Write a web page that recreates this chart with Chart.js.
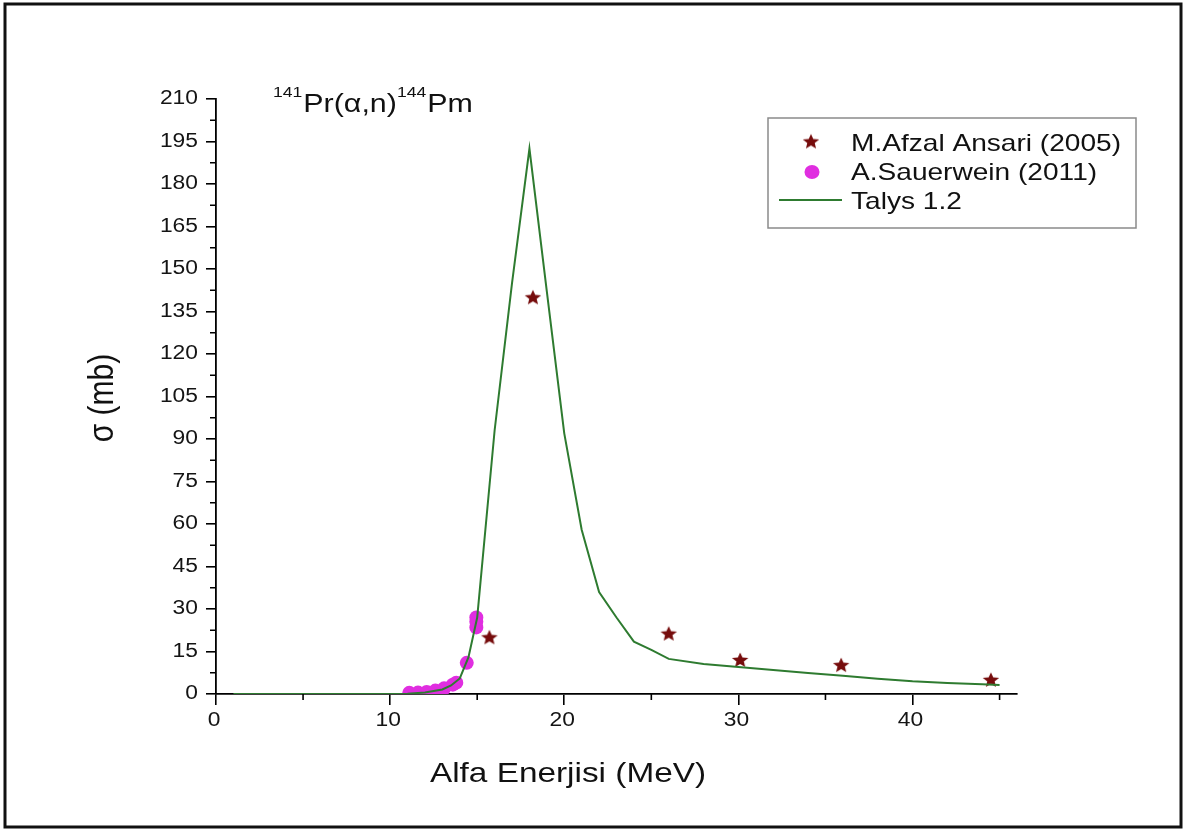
<!DOCTYPE html>
<html>
<head>
<meta charset="utf-8">
<script src="https://cdn.jsdelivr.net/npm/chart.js@4.4.1/dist/chart.umd.min.js"></script>
<style>
html, body { margin: 0; padding: 0; background: #fff; }
#wrap { width: 1187px; height: 834px; position: relative; }
</style>
</head>
<body>
<div id="wrap"><canvas id="myChart"></canvas></div>
<script>
// Talys 1.2 curve
const talysE = [1, 10, 11, 12, 13, 13.5, 14, 14.5, 15, 16, 17, 18, 19, 20, 21, 22, 23, 24, 25, 26, 28, 30, 32, 34, 36, 38, 40, 42, 44, 45];
const talysSigma = [0, 0, 0.1, 0.5, 1.6, 3, 5.5, 13, 27, 93, 145, 192.5, 142, 92, 58, 36, 27, 18.5, 15.6, 12.4, 10.6, 9.5, 8.5, 7.4, 6.4, 5.4, 4.5, 3.9, 3.4, 3.2];

// M.Afzal Ansari (2005)
const ansariE = [15.7, 18.2, 26.0, 30.1, 35.9, 44.5];
const ansariSigma = [20, 140, 21.3, 12, 10.2, 5];

// A.Sauerwein (2011)
const sauerE = [11.1, 11.6, 12.1, 12.6, 13.1, 13.6, 13.8, 14.4, 14.95, 14.95, 14.95];
const sauerSigma = [0.4, 0.5, 0.7, 1.2, 2.0, 3.3, 4.0, 11, 23.5, 25.5, 27];

// axis ticks
const xTickValues = [0, 10, 20, 30, 40];
const xMinorValues = [5, 15, 25, 35, 45];
const yTickValues = [0, 15, 30, 45, 60, 75, 90, 105, 120, 135, 150, 165, 180, 195, 210];
const yMinorValues = [7.5, 22.5, 37.5, 52.5, 67.5, 82.5, 97.5, 112.5, 127.5, 142.5, 157.5, 172.5, 187.5, 202.5];

const SX = 1.17; // yatay genişletme (orijinal resim yatayda gerilmiş)
const FONT = '"Liberation Sans", Arial, sans-serif';
const STAR_COLOR = '#760c0c';
const PINK = '#e02ee0';
const GREEN = '#2e7b30';

function makeStar(R) {
    const c = document.createElement('canvas');
    c.width = 20; c.height = 18;
    const g = c.getContext('2d');
    g.translate(10, 9.5);
    g.scale(1.08, 1);
    g.beginPath();
    for (let i = 0; i < 10; i++) {
        const r = i % 2 === 0 ? R : R * 0.45;
        const a = -Math.PI / 2 + i * Math.PI / 5;
        g.lineTo(r * Math.cos(a), r * Math.sin(a));
    }
    g.closePath();
    g.fillStyle = STAR_COLOR;
    g.fill();
    return c;
}
const starImg = makeStar(8);

function sText(ctx, txt, x, y, size, align, base) {
    ctx.save();
    ctx.font = size + 'px ' + FONT;
    ctx.textAlign = align || 'left';
    ctx.textBaseline = base || 'alphabetic';
    ctx.translate(x, y);
    ctx.scale(SX, 1);
    ctx.fillText(txt, 0, 0);
    ctx.restore();
}
function sWidth(ctx, txt, size) {
    ctx.font = size + 'px ' + FONT;
    return ctx.measureText(txt).width * SX;
}

const decor = {
    id: 'decor',
    afterDraw(chart) {
        const ctx = chart.ctx;
        const xs = chart.scales.x, ys = chart.scales.y;
        const area = chart.chartArea;
        ctx.save();

        // minor ticks
        ctx.strokeStyle = '#000';
        ctx.lineWidth = 1.6;
        ctx.beginPath();
        xMinorValues.forEach(v => {
            const px = xs.getPixelForValue(v);
            ctx.moveTo(px, area.bottom); ctx.lineTo(px, area.bottom + 6);
        });
        yMinorValues.forEach(v => {
            const py = ys.getPixelForValue(v);
            ctx.moveTo(area.left - 6, py); ctx.lineTo(area.left, py);
        });
        ctx.stroke();

        // tick labels
        ctx.fillStyle = '#141414';
        xs.ticks.forEach(t => sText(ctx, String(t.value), xs.getPixelForValue(t.value) - 2, 711, 19.5, 'center', 'top'));
        ys.ticks.forEach(t => sText(ctx, String(t.value), 198, ys.getPixelForValue(t.value), 19.5, 'right', 'middle'));

        // axis titles
        ctx.fillStyle = '#111';
        sText(ctx, 'Alfa Enerjisi (MeV)', 568, 782, 28.5, 'center');
        ctx.save();
        ctx.translate(113, 398);
        ctx.rotate(-Math.PI / 2);
        ctx.scale(1, SX);
        ctx.font = '30px ' + FONT;
        ctx.textAlign = 'center';
        ctx.fillText('\u03c3 (mb)', 0, 0);
        ctx.restore();

        // reaction label
        let x = 273;
        const parts = [['141', 15, 97], ['Pr(\u03b1,n)', 26, 112], ['144', 15, 97], ['Pm', 26, 112]];
        parts.forEach(p => {
            sText(ctx, p[0], x, p[2], p[1], 'left');
            x += sWidth(ctx, p[0], p[1]) + (p[1] === 15 ? 1 : 0);
        });

        // legend
        ctx.strokeStyle = '#8a8a8a';
        ctx.lineWidth = 1.5;
        ctx.strokeRect(768, 118, 368, 110);
        ctx.drawImage(starImg, 811 - 10, 142 - 9.5);
        ctx.fillStyle = PINK;
        ctx.beginPath();
        ctx.ellipse(812, 172, 7.5, 7, 0, 0, Math.PI * 2);
        ctx.fill();
        ctx.strokeStyle = GREEN;
        ctx.lineWidth = 2;
        ctx.beginPath();
        ctx.moveTo(779, 200); ctx.lineTo(842, 200);
        ctx.stroke();
        ctx.fillStyle = '#111';
        const names = chart.data.datasets.map(d => d.label);
        sText(ctx, names[0], 851, 150.5, 24);
        sText(ctx, names[1], 851, 180, 24);
        sText(ctx, names[2], 851, 208.5, 24);

        // frame
        ctx.strokeStyle = '#111';
        ctx.lineWidth = 3;
        ctx.strokeRect(5, 4, 1176, 823);
        ctx.restore();
    }
};

const toXY = (xs, ys) => xs.map((v, i) => ({ x: v, y: ys[i] }));

const ctx = document.getElementById('myChart').getContext('2d');
new Chart(ctx, {
    type: 'scatter',
    data: {
        datasets: [{
            label: 'M.Afzal Ansari (2005)',
            data: toXY(ansariE, ansariSigma),
            pointStyle: starImg,
            pointRadius: 8,
            showLine: false,
            order: 1
        }, {
            label: 'A.Sauerwein (2011)',
            data: toXY(sauerE, sauerSigma),
            pointStyle: 'circle',
            pointRadius: 7,
            backgroundColor: PINK,
            borderColor: PINK,
            borderWidth: 0,
            showLine: false,
            order: 2
        }, {
            label: 'Talys 1.2',
            data: toXY(talysE, talysSigma),
            showLine: true,
            pointRadius: 0,
            borderColor: GREEN,
            borderWidth: 2,
            tension: 0,
            order: 0
        }]
    },
    options: {
        responsive: true,
        maintainAspectRatio: false,
        animation: false,
        devicePixelRatio: 1,
        layout: { padding: { left: 0, right: 170, top: 99, bottom: 0 } },
        plugins: {
            legend: { display: false },
            tooltip: { enabled: false },
            title: { display: false }
        },
        scales: {
            x: {
                type: 'linear',
                min: 0,
                max: 46,
                afterBuildTicks: s => { s.ticks = xTickValues.map(v => ({ value: v })); },
                afterFit: s => { s.height = 140; },
                ticks: { display: false },
                grid: { drawOnChartArea: false, drawTicks: true, tickLength: 11, color: '#000', lineWidth: 1.6 },
                border: { display: true, color: '#000', width: 1.8 }
            },
            y: {
                type: 'linear',
                min: 0,
                max: 210,
                afterBuildTicks: s => { s.ticks = yTickValues.map(v => ({ value: v })); },
                afterFit: s => { s.width = 216; },
                ticks: { display: false },
                grid: { drawOnChartArea: false, drawTicks: true, tickLength: 10, color: '#000', lineWidth: 1.6 },
                border: { display: true, color: '#000', width: 1.8 }
            }
        }
    },
    plugins: [decor]
});
</script>
</body>
</html>
